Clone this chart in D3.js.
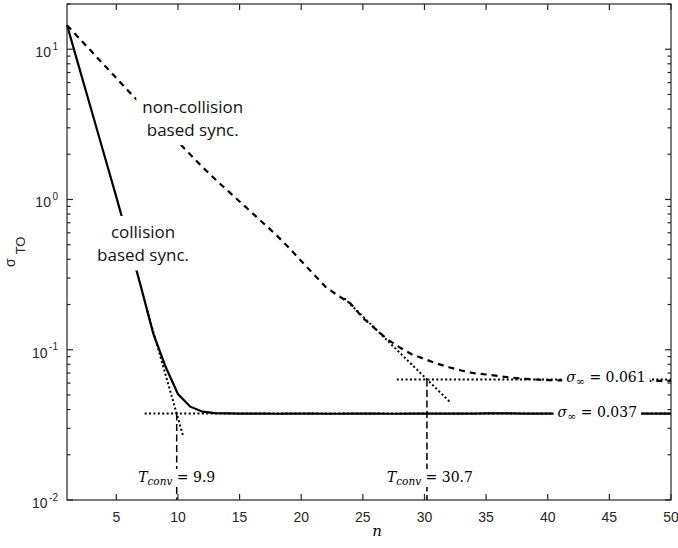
<!DOCTYPE html>
<html><head><meta charset="utf-8">
<script src="https://cdn.jsdelivr.net/npm/d3@7"></script>
<style>body{margin:0;background:#fff}svg{display:block}</style>
</head><body><svg id="c" width="678" height="548"></svg>
<script>
// ---------- data ----------
const nValues = [1,2,3,4,5,6,7,8,9,10,11,12,13,14,15,16,17,18,19,20,21,22,23,24,25,26,27,28,29,30,31,32,33,34,35,36,37,38,39,40,41,42,43,44,45,46,47,48,49,50];
const collisionSigma = [14.5,7.49,3.88,2.01,1.04,0.527,0.262,0.128,0.077,0.0507,0.0418,0.0387,0.0379,0.0377,0.0376,0.0376,0.0376,0.0375,0.0376,0.0376,0.0376,0.0375,0.0375,0.0376,0.0376,0.0376,0.0375,0.0375,0.0376,0.0376,0.0376,0.0376,0.0376,0.0376,0.0377,0.0377,0.0377,0.0376,0.0376,0.0376,0.0376,0.0376,0.0376,0.0376,0.0376,0.0376,0.0376,0.0376,0.0376,0.0376];
const nonCollisionSigma = [14.45,11.8,9.64,7.87,6.43,5.25,4.33,3.56,2.94,2.42,1.99,1.64,1.37,1.15,0.97,0.817,0.687,0.578,0.478,0.390,0.319,0.261,0.229,0.203,0.163,0.138,0.117,0.1035,0.093,0.0868,0.081,0.0764,0.0728,0.0698,0.0684,0.0668,0.0653,0.0641,0.0634,0.0628,0.0625,0.0624,0.0624,0.0623,0.0623,0.0622,0.0622,0.0621,0.0621,0.0620];
// asymptote / convergence annotations
const sigmaInfCollision = 0.0377, sigmaInfNonCollision = 0.0633;
const tConvCollision = 9.9, tConvNonCollision = 30.2;
const tangentCollision = [[7.5,0.183],[10.4,0.027]];
const tangentNonCollision = [[23.5,0.22],[32.13,0.0444]];
const xTicks = [5,10,15,20,25,30,35,40,45,50];
const yMajorTicks = [0.01,0.1,1,10];
const yExponents = ["-2","-1","0","1"];
const yMinorTicks = [0.02,0.03,0.04,0.05,0.06,0.07,0.08,0.09,0.2,0.3,0.4,0.5,0.6,0.7,0.8,0.9,2,3,4,5,6,7,8,9,20];
const labelNonCollision = ["non-collision","based sync."];
const labelCollision = ["collision","based sync."];

// ---------- layout ----------
const L=67, R=671, T=4, B=500;
const svg = d3.select("#c");
const x = d3.scaleLinear().domain([1,50]).range([L,R]);
const y = d3.scaleLog().domain([0.01,20]).range([B,T]);
const axisColor = "#262626";

const g = svg.append("g");
g.append("rect").attr("x",L).attr("y",T).attr("width",R-L).attr("height",B-T).attr("fill","#fff");

const line = d3.line().x(d=>x(d[0])).y(d=>y(d[1]));
const collData = nValues.map((n,i)=>[n,collisionSigma[i]]);
const nonData = nValues.map((n,i)=>[n,nonCollisionSigma[i]]);

// dotted helpers
function dotted(pts){
  g.append("path").attr("d",line(pts)).attr("fill","none").attr("stroke","#000")
   .attr("stroke-width",2).attr("stroke-dasharray","2,2.4");
}
dotted([[7.3,sigmaInfCollision],[50,sigmaInfCollision]]);
dotted([[27.75,sigmaInfNonCollision],[50,sigmaInfNonCollision]]);
dotted(tangentCollision);
dotted(tangentNonCollision);

// vertical convergence lines
function vdash(n,v){
  g.append("path").attr("d",line([[n,v],[n,0.01]])).attr("fill","none").attr("stroke","#000")
   .attr("stroke-width",1.5).attr("stroke-dasharray","7,3.5");
}
vdash(tConvCollision,sigmaInfCollision);
vdash(tConvNonCollision,sigmaInfNonCollision);

// main curves
g.append("path").attr("d",line(nonData)).attr("fill","none").attr("stroke","#000")
 .attr("stroke-width",2.2).attr("stroke-dasharray","6,5");
g.append("path").attr("d",line(collData)).attr("fill","none").attr("stroke","#000")
 .attr("stroke-width",2.2);

// boxed text helper
function boxed(textSel, padX, padY){
  const bb = textSel.node().getBBox();
  const r=document.createElementNS("http://www.w3.org/2000/svg","rect");
  r.setAttribute("x",bb.x-padX);r.setAttribute("y",bb.y-padY);
  r.setAttribute("width",bb.width+2*padX);r.setAttribute("height",bb.height+2*padY);
  r.setAttribute("fill","#fff");
  textSel.node().parentNode.insertBefore(r, textSel.node());
}

// curve labels
function twoLine(lines, n, v){
  const t = g.append("text").attr("font-family","'Open Sans', sans-serif").attr("font-size",17)
    .attr("fill","#111").attr("text-anchor","middle");
  lines.forEach((s,i)=>{
    t.append("tspan").attr("x",x(n)).attr("y",y(v)+(i===0?-5.5:18)).text(s);
  });
  boxed(t,6,4);
}
twoLine(labelNonCollision, 11.2, 3.48);
twoLine(labelCollision, 7.17, 0.51);

// sigma infinity labels
function sigmaLabel(n, v, valText, dy){
  const t = g.append("text").attr("font-family","'DejaVu Serif', serif").attr("font-size",14)
    .attr("fill","#000").attr("x",x(n)).attr("y",y(v)+dy);
  t.append("tspan").attr("font-style","italic").text("σ");
  t.append("tspan").attr("font-size",11).attr("dy",3).text("∞");
  t.append("tspan").attr("dy",-3).text(" = "+valText);
  boxed(t,4,0);
}
sigmaLabel(41.5, sigmaInfNonCollision, "0.061", 2.5);
sigmaLabel(40.8, sigmaInfCollision, "0.037", 3.5);

// T_conv labels
function tconvLabel(n, valText, dx){
  const t = g.append("text").attr("font-family","'DejaVu Serif', serif").attr("font-size",14)
    .attr("fill","#000").attr("x",x(n)+dx).attr("y",482).attr("text-anchor","middle");
  t.append("tspan").attr("font-style","italic").text("T");
  t.append("tspan").attr("font-style","italic").attr("font-size",10.5).attr("dy",3).text("conv");
  t.append("tspan").attr("dy",-3).text(" = "+valText);
  boxed(t,1,0);
}
tconvLabel(tConvCollision, "9.9", 0);
tconvLabel(tConvNonCollision, "30.7", 3);

// ---------- axes ----------
const ax = svg.append("g").attr("stroke",axisColor).attr("stroke-width",1.2);
ax.append("rect").attr("x",L).attr("y",T).attr("width",R-L).attr("height",B-T).attr("fill","none");
xTicks.forEach(v=>{
  ax.append("line").attr("x1",x(v)).attr("x2",x(v)).attr("y1",B).attr("y2",B-6);
  ax.append("line").attr("x1",x(v)).attr("x2",x(v)).attr("y1",T).attr("y2",T+6);
});
yMajorTicks.forEach(v=>{
  ax.append("line").attr("x1",L).attr("x2",L+6).attr("y1",y(v)).attr("y2",y(v));
  ax.append("line").attr("x1",R).attr("x2",R-6).attr("y1",y(v)).attr("y2",y(v));
});
yMinorTicks.forEach(v=>{
  ax.append("line").attr("x1",L).attr("x2",L+3.5).attr("y1",y(v)).attr("y2",y(v));
  ax.append("line").attr("x1",R).attr("x2",R-3.5).attr("y1",y(v)).attr("y2",y(v));
});

const tl = svg.append("g").attr("font-family","'Liberation Sans', Arial, sans-serif").attr("fill",axisColor);
xTicks.forEach(v=>{
  tl.append("text").attr("x",x(v)).attr("y",522).attr("text-anchor","middle").attr("font-size",14).text(v);
});
yMajorTicks.forEach((v,i)=>{
  const t = tl.append("text").attr("x",58).attr("y",y(v)+8).attr("text-anchor","end").attr("font-size",14);
  t.append("tspan").text("10");
  t.append("tspan").attr("font-size",10).attr("dy",-7.5).attr("dx",1.5).text(yExponents[i]);
});

// axis titles
svg.append("text").attr("x",377).attr("y",536).attr("text-anchor","middle")
  .attr("font-family","'DejaVu Serif', serif").attr("font-style","italic").attr("font-size",15)
  .attr("fill","#000").text("n");
const yl = svg.append("text").attr("transform","translate(15,267) rotate(-90)")
  .attr("font-family","'Liberation Sans', Arial, sans-serif").attr("fill",axisColor);
yl.append("tspan").attr("font-size",14).text("σ");
yl.append("tspan").attr("font-size",13).attr("dx",4).attr("dy",10).text("TO");
</script>
</body></html>
